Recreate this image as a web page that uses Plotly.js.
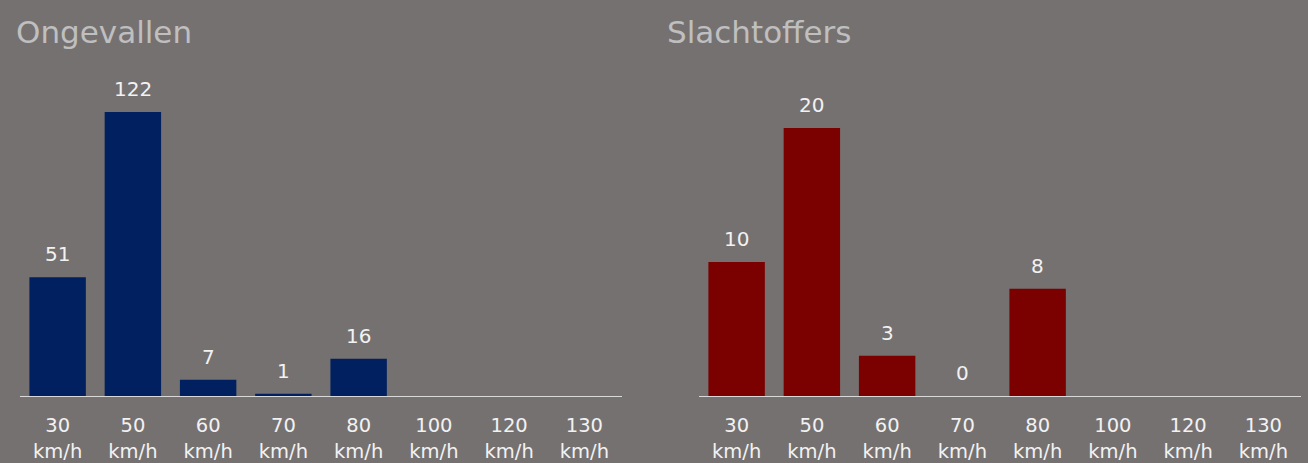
<!DOCTYPE html>
<html>
<head>
<meta charset="utf-8">
<script src="https://cdn.plot.ly/plotly-3.0.1.min.js"></script>
<style>html,body{margin:0;padding:0;background:#767171;}#chart{width:1308px;height:463px;}</style>
</head>
<body>
<div id="chart"></div>
<script>
const categories = ["30<br>km/h","50<br>km/h","60<br>km/h","70<br>km/h","80<br>km/h","100<br>km/h","120<br>km/h","130<br>km/h"];
const ongevallen = [51, 122, 7, 1, 16, null, null, null];
const slachtoffers = [10, 20, 3, 0, 8, null, null, null];
const titleLeft = "Ongevallen";
const titleRight = "Slachtoffers";

const W = 1308, H = 463;
const FONT = "DejaVu Sans, Verdana, sans-serif";
const labelColor = "#F2F2F2";
const baseY = (H - 396) / H;
const topY = (H - 60) / H;

function labels(vals, xref, yref) {
  const out = [];
  vals.forEach((v, i) => {
    if (v === null) return;
    out.push({x: categories[i], y: v, xref: xref, yref: yref, text: String(v), showarrow: false,
      yanchor: "bottom", yshift: 9, font: {family: FONT, size: 20, color: labelColor}});
  });
  return out;
}

const traces = [
  {type: "bar", x: categories, y: ongevallen, xaxis: "x", yaxis: "y", marker: {color: "#002060"}, hoverinfo: "skip"},
  {type: "bar", x: categories, y: slachtoffers, xaxis: "x2", yaxis: "y2", marker: {color: "#7B0000"}, hoverinfo: "skip"}
];

const xcommon = {type: "category", showgrid: false, zeroline: false, showline: true, linecolor: "#D9D9D9", linewidth: 1,
  ticks: "", ticklabelstandoff: 12, tickfont: {family: FONT, size: 19.5, color: labelColor}, fixedrange: true};
const ycommon = {showgrid: false, zeroline: false, showline: false, showticklabels: false, ticks: "", fixedrange: true};

const layout = {
  width: W, height: H,
  paper_bgcolor: "#767171", plot_bgcolor: "#767171",
  margin: {l: 0, r: 0, t: 0, b: 0},
  showlegend: false, bargap: 0.25,
  xaxis: Object.assign({}, xcommon, {domain: [20 / W, 622 / W], anchor: "y"}),
  yaxis: Object.assign({}, ycommon, {domain: [baseY, topY], range: [0, 336 / 2.328], anchor: "x"}),
  xaxis2: Object.assign({}, xcommon, {domain: [699 / W, 1301 / W], anchor: "y2"}),
  yaxis2: Object.assign({}, ycommon, {domain: [baseY, topY], range: [0, 336 / 13.4], anchor: "x2"}),
  annotations: [
    {text: titleLeft, xref: "paper", yref: "paper", x: 14 / W, y: (H - 32) / H, xanchor: "left", yanchor: "middle",
      showarrow: false, font: {family: FONT, size: 31, color: "#BFBFBF"}},
    {text: titleRight, xref: "paper", yref: "paper", x: 665 / W, y: (H - 32) / H, xanchor: "left", yanchor: "middle",
      showarrow: false, font: {family: FONT, size: 31, color: "#BFBFBF"}}
  ].concat(labels(ongevallen, "x", "y"), labels(slachtoffers, "x2", "y2"))
};

Plotly.newPlot("chart", traces, layout, {displayModeBar: false, staticPlot: true});
</script>
</body>
</html>
